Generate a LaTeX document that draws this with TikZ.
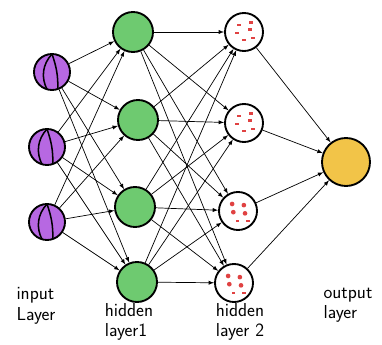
\documentclass[tikz,border=0pt]{standalone}
\usepackage{tikz}
\usetikzlibrary{arrows}

\definecolor{inpurple}{RGB}{183,104,226}
\definecolor{hidgreen}{RGB}{110,202,112}
\definecolor{outyellow}{RGB}{242,196,72}
\definecolor{dotred}{RGB}{224,66,66}

\tikzset{
  neuron/.style={circle, draw=black, line width=1.6pt, inner sep=0pt},
  innode/.style={neuron, fill=inpurple, minimum size=1.08cm,
    path picture={
      \draw[line width=1.3pt] (path picture bounding box.north) to[bend right=35] ([xshift=-4pt]path picture bounding box.south);
      \draw[line width=1.3pt] (path picture bounding box.north) to[bend left=10] ([xshift=5pt]path picture bounding box.south);
    }},
  hidnode/.style={neuron, fill=hidgreen, minimum size=1.2cm},
  dashnode/.style={neuron, fill=white, minimum size=1.14cm,
    path picture={
      \foreach \dx/\dy in {-6/5, 4/7, -8/-2, 3/1, -2/-8, 6/-6}
        \fill[dotred] ([xshift=\dx pt,yshift=\dy pt]path picture bounding box.center) rectangle ++(3.5pt,2pt);
    }},
  dotnode/.style={neuron, fill=white, minimum size=1.14cm,
    path picture={
      \foreach \dx/\dy in {-5/6, 5/5, -4/-1, 6/-2}
        \fill[dotred] ([xshift=\dx pt,yshift=\dy pt]path picture bounding box.center) circle (2pt);
      \foreach \dx/\dy in {-2/-9, 7/-9}
        \fill[dotred] ([xshift=\dx pt,yshift=\dy pt]path picture bounding box.center) rectangle ++(3pt,1.6pt);
    }},
  outnode/.style={neuron, fill=outyellow, minimum size=1.44cm},
  layerlabel/.style={font=\sffamily\fontsize{16}{17.5}\selectfont, align=left, inner sep=0pt}
}

\begin{document}
\begin{tikzpicture}[x=0.03cm, y=-0.03cm]
  \useasboundingbox (0,0) rectangle (382,345);

  % input layer
  \node[innode] (i1) at (52,72) {};
  \node[innode] (i2) at (47,147) {};
  \node[innode] (i3) at (47,222) {};

  % hidden layer 1
  \node[hidnode] (h1) at (133,32) {};
  \node[hidnode] (h2) at (138,120) {};
  \node[hidnode] (h3) at (135,207) {};
  \node[hidnode] (h4) at (137,282) {};

  % hidden layer 2
  \node[dashnode] (g1) at (244,32) {};
  \node[dashnode] (g2) at (244,123) {};
  \node[dotnode] (g3) at (238,211) {};
  \node[dotnode] (g4) at (234,283) {};

  % output layer
  \node[outnode] (o) at (346,162) {};

  \path[->, >=latex, line width=0.6pt]
  (i1) edge (h1) edge (h2) edge (h3) edge (h4)
  (i2) edge (h1) edge (h2) edge (h3) edge (h4)
  (i3) edge (h1) edge (h2) edge (h3) edge (h4)
  (h1) edge (g1) edge (g2) edge (g3) edge (g4)
  (h2) edge (g1) edge (g2) edge (g3) edge (g4)
  (h3) edge (g1) edge (g2) edge (g3) edge (g4)
  (h4) edge (g1) edge (g2) edge (g3) edge (g4)
  (g1) edge (o)
  (g2) edge (o)
  (g3) edge (o)
  (g4) edge (o)
  ;

  \node[layerlabel] (linput) at (36,306) {input\\Layer};
  \node[layerlabel] (lhid1) at (129,322) {hidden\\layer1};
  \node[layerlabel] (lhid2) at (240,322) {hidden\\layer 2};
  \node[layerlabel] (lout) at (348,305) {output\\layer};
\end{tikzpicture}
\end{document}
